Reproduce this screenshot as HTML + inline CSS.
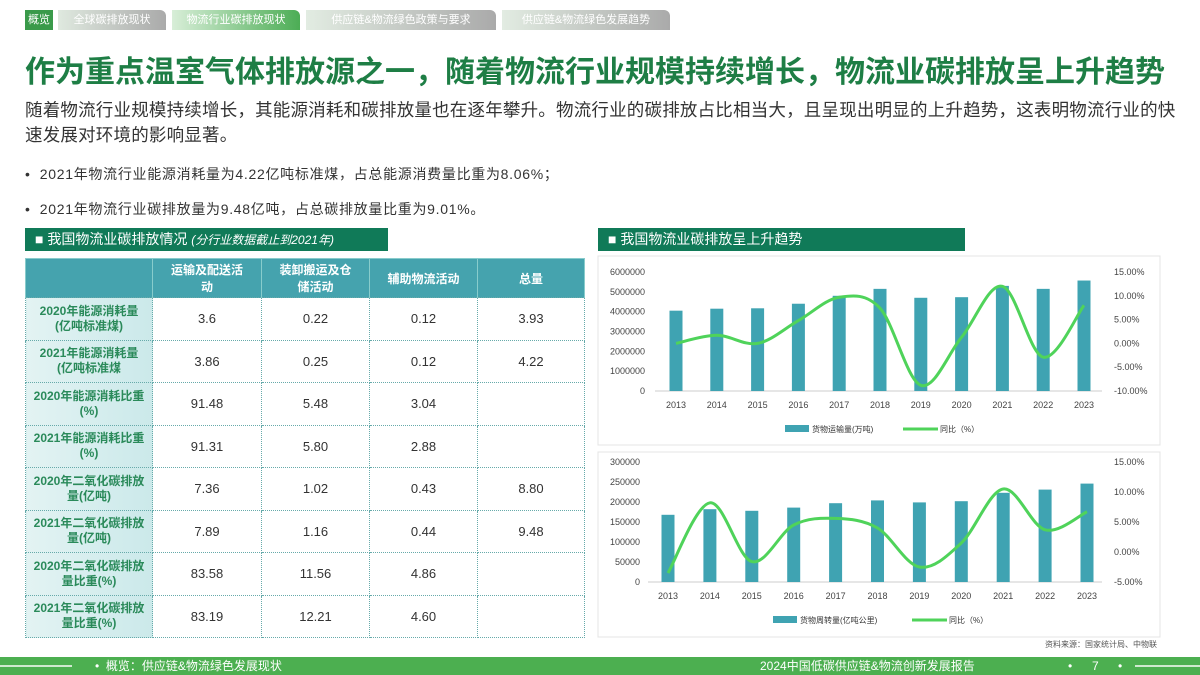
<!DOCTYPE html>
<html><head><meta charset="utf-8">
<style>
*{margin:0;padding:0;box-sizing:border-box}
body{width:1200px;height:675px;position:relative;background:#fff;font-family:"Liberation Sans","Noto Sans CJK SC",sans-serif;overflow:hidden;color:#333}
.tab{position:absolute;top:10px;height:20px;font-size:11px;color:#fff;line-height:20px;text-align:center;border-radius:0 6px 0 0}
.t{position:absolute;white-space:nowrap}
table{position:absolute;left:25px;top:258px;width:560px;border-collapse:collapse;font-size:13px}
td{border:1px dotted #6aa;text-align:center;height:42.5px}
th{background:#45a3ae;color:#fff;font-size:12px;font-weight:bold;height:39px;border:1px solid #8cc;border-bottom:none}
td.h{background:linear-gradient(90deg,#e3f3f3,#cbe9ea);color:#2a8a5a;font-weight:bold;font-size:12px;line-height:15px}
.sec{position:absolute;top:228px;height:23px;background:#107a58;color:#fff;font-size:14px;line-height:23px;padding-left:10px}
</style></head><body>
<div class="tab" style="left:25px;width:28px;background:#3a9a4a;border-radius:0">概览</div>
<div class="tab" style="left:58px;width:108px;background:linear-gradient(90deg,#dfe9df,#aaa)">全球碳排放现状</div>
<div class="tab" style="left:172px;width:128px;background:linear-gradient(90deg,#d8eed8,#4cad55)">物流行业碳排放现状</div>
<div class="tab" style="left:306px;width:190px;background:linear-gradient(90deg,#e2ece2,#aaa)">供应链&amp;物流绿色政策与要求</div>
<div class="tab" style="left:502px;width:168px;background:linear-gradient(90deg,#e2ece2,#aaa)">供应链&amp;物流绿色发展趋势</div>

<div class="t" style="left:25px;top:47px;font-size:30px;font-weight:bold;color:#1e7e45">作为重点温室气体排放源之一，随着物流行业规模持续增长，物流业碳排放呈上升趋势</div>
<div class="t" style="left:25px;top:98px;font-size:17.5px;line-height:25px;color:#333;letter-spacing:0.2px">随着物流行业规模持续增长，其能源消耗和碳排放量也在逐年攀升。物流行业的碳排放占比相当大，且呈现出明显的上升趋势，这表明物流行业的快<br>速发展对环境的影响显著。</div>
<div class="t" style="left:25px;top:164px;font-size:14px;letter-spacing:0.7px">•&nbsp; 2021年物流行业能源消耗量为4.22亿吨标准煤，占总能源消费量比重为8.06%；</div>
<div class="t" style="left:25px;top:199px;font-size:14px;letter-spacing:0.7px">•&nbsp; 2021年物流行业碳排放量为9.48亿吨，占总碳排放量比重为9.01%。</div>

<div class="sec" style="left:25px;width:363px">■ 我国物流业碳排放情况 <i style="font-size:12px">(分行业数据截止到2021年)</i></div>
<div class="sec" style="left:598px;width:367px">■ 我国物流业碳排放呈上升趋势</div>

<table>
<tr><th style="width:127px"></th><th style="width:109px">运输及配送活<br>动</th><th style="width:108px">装卸搬运及仓<br>储活动</th><th style="width:108px">辅助物流活动</th><th>总量</th></tr>
<tr><td class="h">2020年能源消耗量<br>(亿吨标准煤)</td><td>3.6</td><td>0.22</td><td>0.12</td><td>3.93</td></tr>
<tr><td class="h">2021年能源消耗量<br>(亿吨标准煤</td><td>3.86</td><td>0.25</td><td>0.12</td><td>4.22</td></tr>
<tr><td class="h">2020年能源消耗比重<br>(%)</td><td>91.48</td><td>5.48</td><td>3.04</td><td></td></tr>
<tr><td class="h">2021年能源消耗比重<br>(%)</td><td>91.31</td><td>5.80</td><td>2.88</td><td></td></tr>
<tr><td class="h">2020年二氧化碳排放<br>量(亿吨)</td><td>7.36</td><td>1.02</td><td>0.43</td><td>8.80</td></tr>
<tr><td class="h">2021年二氧化碳排放<br>量(亿吨)</td><td>7.89</td><td>1.16</td><td>0.44</td><td>9.48</td></tr>
<tr><td class="h">2020年二氧化碳排放<br>量比重(%)</td><td>83.58</td><td>11.56</td><td>4.86</td><td></td></tr>
<tr><td class="h">2021年二氧化碳排放<br>量比重(%)</td><td>83.19</td><td>12.21</td><td>4.60</td><td></td></tr>
</table>

<svg id="charts" width="1200" height="675" style="position:absolute;left:0;top:0" font-family="Liberation Sans, Noto Sans CJK SC, sans-serif">
<rect x="598" y="256" width="562" height="189" fill="#fff" stroke="#e4e4e4"/>
<rect x="598" y="452" width="562" height="185" fill="#fff" stroke="#e4e4e4"/>
<text x="1157" y="647" font-size="8" text-anchor="end" fill="#555">资料来源：国家统计局、中物联</text>
</svg>

<div style="position:absolute;left:0;top:657px;width:1200px;height:18px;background:#4caf50;color:#fff;font-size:12px;line-height:18px">
<div style="position:absolute;left:0;top:8px;width:72px;height:2px;background:#cfe9cf"></div>
<div style="position:absolute;left:95px">•&nbsp;&nbsp;概览：供应链&amp;物流绿色发展现状</div>
<div style="position:absolute;left:760px">2024中国低碳供应链&amp;物流创新发展报告</div>
<div style="position:absolute;left:1068px">•</div>
<div style="position:absolute;left:1092px">7</div>
<div style="position:absolute;left:1118px">•</div>
<div style="position:absolute;left:1135px;top:8px;width:65px;height:2px;background:#cfe9cf"></div>
</div>

<script>
const years = ["2013","2014","2015","2016","2017","2018","2019","2020","2021","2022","2023"];
const freightVolume = [4050000,4150000,4170000,4400000,4800000,5150000,4700000,4730000,5300000,5150000,5570000];
const freightVolumeYoY = [0,1.7,0,4.8,9.7,7.4,-8.8,1.3,12,-2.9,8];
const turnover = [168000,182000,178000,186000,197000,204000,199000,202000,223000,231000,246000];
const turnoverYoY = [-3.5,8.2,-1.6,4.5,5.6,4,-2.5,1.5,10.5,3.7,6.7];
const leftTicks1 = [0,1000000,2000000,3000000,4000000,5000000,6000000];
const rightTicks1 = [-10,-5,0,5,10,15];
const leftTicks2 = [0,50000,100000,150000,200000,250000,300000];
const rightTicks2 = [-5,0,5,10,15];

const svg = document.getElementById('charts');
const NS = 'http://www.w3.org/2000/svg';
function mk(tag, attrs, txt){const e=document.createElementNS(NS,tag);for(const k in attrs)e.setAttribute(k,attrs[k]);if(txt!=null)e.textContent=txt;svg.appendChild(e);return e;}

function chart(o){
  const {id, bars, line, lt, rt, top, bottom, lmax, rmin, rmax, x0, x1, axL, axR, ltx, rtx, legY, legBarX, legLineX, barLabel} = o;
  const xs = i => x0 + (x1-x0)*i/(years.length-1);
  const yl = v => bottom - (bottom-top)*v/lmax;
  const yr = v => bottom - (bottom-top)*(v-rmin)/(rmax-rmin);
  lt.forEach(v=>{const t=mk('text',{x:ltx,y:yl(v)+3,'font-size':9,'text-anchor':'end',fill:'#444'},String(v));
    
    });
  rt.forEach(v=>{const t=mk('text',{x:rtx,y:yr(v)+3,'font-size':9,fill:'#444'},v.toFixed(2)+'%');
    
    });
  const ax=mk('line',{x1:axL,x2:axR,y1:bottom,y2:bottom,stroke:'#ccc'});
  
  
  bars.forEach((v,i)=>{
    const r=mk('rect',{x:xs(i)-6.5,y:yl(v),width:13,height:bottom-yl(v),fill:'#3fa3b2'});
    
    
    const t=mk('text',{x:xs(i),y:bottom+17,'font-size':9,'text-anchor':'middle',fill:'#444'},years[i]);
    
    
  });
  const pts=line.map((v,i)=>[xs(i),yr(v)]);
  let d='M'+pts[0][0]+','+pts[0][1];
  for(let i=0;i<pts.length-1;i++){
    const p0=pts[Math.max(0,i-1)],p1=pts[i],p2=pts[i+1],p3=pts[Math.min(pts.length-1,i+2)];
    const c1=[p1[0]+(p2[0]-p0[0])/6,p1[1]+(p2[1]-p0[1])/6],c2=[p2[0]-(p3[0]-p1[0])/6,p2[1]-(p3[1]-p1[1])/6];
    d+=` C${c1[0]},${c1[1]} ${c2[0]},${c2[1]} ${p2[0]},${p2[1]}`;
  }
  const ln=mk('path',{d:d,fill:'none',stroke:'#4fd35a','stroke-width':3});
  
  
  const lr=mk('rect',{x:legBarX,y:legY-4,width:24,height:7,fill:'#3fa3b2'});
  
  
  const lt1=mk('text',{x:legBarX+27,y:legY+3,'font-size':8,fill:'#333'},barLabel);
  
  
  const ll=mk('line',{x1:legLineX,x2:legLineX+35,y1:legY,y2:legY,stroke:'#4fd35a','stroke-width':3});
  
  
  const lt2=mk('text',{x:legLineX+37,y:legY+3,'font-size':8,fill:'#333'},'同比（%）');
  
  
}
chart({id:'chart1',bars:freightVolume,line:freightVolumeYoY,lt:leftTicks1,rt:rightTicks1,top:272,bottom:391,lmax:6000000,rmin:-10,rmax:15,x0:676,x1:1084,axL:655,axR:1102,ltx:645,rtx:1114,legY:429,legBarX:785,legLineX:903,barLabel:'货物运输量(万吨)'});
chart({id:'chart2',bars:turnover,line:turnoverYoY,lt:leftTicks2,rt:rightTicks2,top:462,bottom:582,lmax:300000,rmin:-5,rmax:15,x0:668,x1:1087,axL:648,axR:1102,ltx:640,rtx:1114,legY:620,legBarX:773,legLineX:912,barLabel:'货物周转量(亿吨公里)'});
</script>
</body></html>
